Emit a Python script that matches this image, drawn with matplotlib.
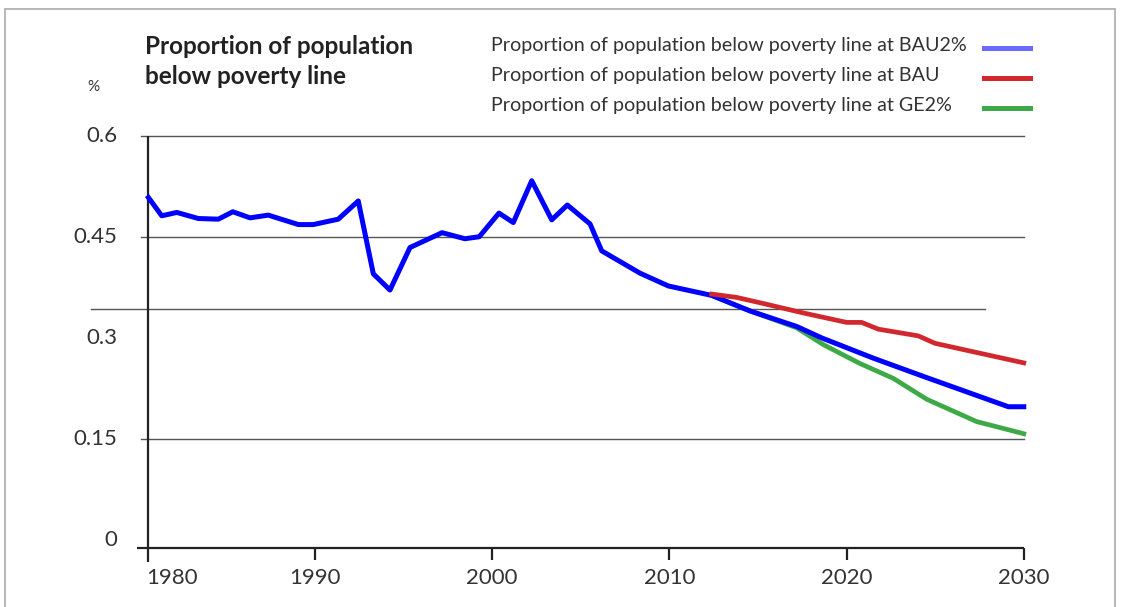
import matplotlib
matplotlib.use("Agg")
import matplotlib.pyplot as plt
from matplotlib.patches import Rectangle

plt.rcParams['font.family'] = ['Lato', 'DejaVu Sans']

# historical + BAU2% series
years_bau2 = [1980.6, 1981.35, 1982.2, 1983.41, 1984.54, 1985.36, 1986.33, 1987.36,
              1989.06, 1989.9, 1991.31, 1992.44, 1993.29, 1994.23, 1995.36, 1997.17,
              1998.46, 1999.27, 2000.38, 2001.19, 2002.23, 2003.36, 2004.24, 2005.52,
              2006.18, 2008.34, 2009.94, 2012.39, 2014.55, 2017.18, 2018.6, 2021.51,
              2024.33, 2027.53, 2029.13, 2030]
vals_bau2 = [0.508, 0.481, 0.486, 0.477, 0.476, 0.487, 0.478, 0.482,
             0.468, 0.468, 0.476, 0.503, 0.395, 0.371, 0.434, 0.456,
             0.447, 0.450, 0.485, 0.471, 0.533, 0.475, 0.497, 0.469,
             0.429, 0.396, 0.377, 0.363, 0.340, 0.317, 0.300, 0.270,
             0.243, 0.213, 0.198, 0.198]

years_bau = [2012.39, 2013.8, 2015.3, 2017.56, 2020.0, 2020.85, 2021.79, 2024.05, 2024.99, 2030]
vals_bau = [0.365, 0.360, 0.351, 0.337, 0.323, 0.323, 0.313, 0.303, 0.292, 0.263]

years_ge2 = [2012.39, 2014.55, 2017.18, 2018.69, 2020.76, 2022.64, 2024.53, 2027.34, 2030]
vals_ge2 = [0.363, 0.340, 0.315, 0.290, 0.262, 0.240, 0.209, 0.176, 0.158]

xtick_years = [1980.6, 1990, 2000, 2010, 2020, 2030]
xtick_labels = ['1980', '1990', '2000', '2010', '2020', '2030']
ytick_vals = [0.6, 0.45, 0.3, 0.15, 0]
ytick_labels = ['0.6', '0.45', '0.3', '0.15', '0']

title_lines = ['Proportion of population', 'below poverty line']
legend_labels = ['Proportion of population below poverty line at BAU2%',
                 'Proportion of population below poverty line at BAU',
                 'Proportion of population below poverty line at GE2%']

c_blue = '#0000ff'
c_red = '#d1282e'
c_green = '#3daa47'
c_text = '#333333'

fig = plt.figure(figsize=(11.22, 6.07), dpi=100)
ax = fig.add_axes([90 / 1122, 27 / 607, 960 / 1122, 460 / 607])
ax.set_xlim(1977.30, 2031.48)
ax.set_ylim(-0.0588, 0.623)
ax.axis('off')

# grid lines (the middle one is a short, oddly placed line)
for v in [0.6, 0.45, 0.15]:
    ax.plot([1980.18, 2030], [v, v], color='#555555', lw=1.0, zorder=1)
ax.plot([1977.35, 2027.81], [0.343, 0.343], color='#555555', lw=1.0, zorder=1)

# axes lines
y0 = -0.0107
ax.plot([1979.94, 2030], [y0, y0], color='#222222', lw=1.6, zorder=2, solid_capstyle='butt')
ax.plot([1980.6, 1980.6], [-0.0316, 0.6], color='#222222', lw=1.6, zorder=2, solid_capstyle='butt')
for yr in xtick_years[1:]:
    ax.plot([yr, yr], [y0, -0.029], color='#222222', lw=1.6, zorder=2, solid_capstyle='butt')

for yr, lab in zip(xtick_years, xtick_labels):
    ha = 'left' if lab == '1980' else 'center'
    x = yr - 0.15 if lab == '1980' else yr
    ax.text(x, -0.0558, lab, ha=ha, va='center', fontsize=16, color=c_text)

for v, lab in zip(ytick_vals, ytick_labels):
    ax.text(1978.83, v, lab, ha='right', va='center', fontsize=16, color=c_text)

# series
ax.plot(years_ge2, vals_ge2, color=c_green, lw=3.4, zorder=3, clip_on=False)
ax.plot(years_bau2, vals_bau2, color=c_blue, lw=3.6, zorder=4, clip_on=False)
ax.plot(years_bau, vals_bau, color=c_red, lw=3.4, zorder=5, clip_on=False)

# title and unit
for i, line in enumerate(title_lines):
    fig.text(145 / 1122, 1 - (47 + 30 * i) / 607, line, fontsize=17.5,
             fontweight='bold', color='#222222', va='center', ha='left')
fig.text(87 / 1122, 1 - 87 / 607, '%', fontsize=11, color=c_text, va='center')

# legend
swatch_cols = ['#6a6aff', c_red, c_green]
for i, (lab, col) in enumerate(zip(legend_labels, swatch_cols)):
    yy = 1 - (46 + 30 * i) / 607
    fig.text(491 / 1122, yy, lab, fontsize=14.2, color=c_text, va='center', ha='left')
    fig.add_artist(plt.Line2D([984 / 1122, 1030 / 1122], [yy - 2 / 607, yy - 2 / 607],
                              color=col, lw=3.6, transform=fig.transFigure))

# outer frame
fig.add_artist(Rectangle((5 / 1122, -0.02), 1110 / 1122, 1.02 - 9 / 607,
                         transform=fig.transFigure, fill=False,
                         edgecolor='#aaaaaa', lw=1.2))

fig.savefig('out.png', dpi=100)
